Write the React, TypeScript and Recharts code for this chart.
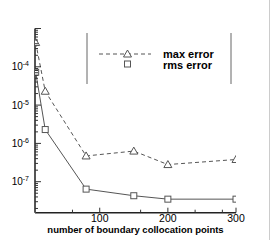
import React from "react";
import { LineChart, Line, XAxis, YAxis } from "recharts";

const xValues = [6, 20, 80, 150, 200, 300];
const maxError = [4.3e-4, 2.3e-5, 4.7e-7, 6.3e-7, 2.8e-7, 3.8e-7];
const rmsError = [7.2e-5, 2.3e-6, 6.4e-8, 4.3e-8, 3.5e-8, 3.5e-8];

const xMajorTicks = [100, 200, 300];
const xTickLabels = ["100", "200", "300"];
const xMinorTicks = [60, 160, 240, 280];

const yMajorTicks = [1e-7, 1e-6, 1e-5, 1e-4, 1e-3];
const yTickExponents = ["-7", "-6", "-5", "-4", ""];

const Y_DOMAIN: [number, number] = [1.55e-8, 1e-3];
const X_DOMAIN: [number, number] = [5, 300];

const W = 270;
const H = 240;
const Y_AXIS_W = 35;
const X_AXIS_H = 27.3;
const MARGIN = { top: 28.5, right: 34, bottom: 0, left: 0 };
const PLOT_LEFT = Y_AXIS_W;
const PLOT_BOTTOM = H - X_AXIS_H;

const yMinorTicks: number[] = [];
for (let k = -8; k <= -4; k++) {
  for (let m = 2; m <= 9; m++) {
    const v = m * Math.pow(10, k);
    if (v >= Y_DOMAIN[0] && v <= Y_DOMAIN[1]) yMinorTicks.push(v);
  }
}

const data = xValues.map((x, i) => ({ x, maxErr: maxError[i], rmsErr: rmsError[i] }));

const FONT = '"Liberation Sans", Arial, Helvetica, sans-serif';
const GRAY = "#555";

const YTick = (props: any) => {
  const { payload } = props;
  const v = payload.value;
  const y = payload.coordinate ?? props.y;
  const idx = yMajorTicks.findIndex((t) => Math.abs(t - v) / t < 1e-6);
  const isMajor = idx >= 0;
  return (
    <g>
      <line x1={PLOT_LEFT} x2={PLOT_LEFT + (isMajor ? 6 : 3)} y1={y} y2={y} stroke="#333" strokeWidth={1} />
      {isMajor && yTickExponents[idx] !== "" && (
        <text x={29} y={y + 3.5} textAnchor="end" fontFamily={FONT} fontSize={10} fill="#000">
          10
          <tspan fontSize={7} dy={-4}>{yTickExponents[idx]}</tspan>
        </text>
      )}
    </g>
  );
};

const XTick = (props: any) => {
  const { payload } = props;
  const v = payload.value;
  const x = payload.coordinate ?? props.x;
  const idx = xMajorTicks.indexOf(v);
  const isMajor = idx >= 0;
  return (
    <g>
      <line x1={x} x2={x} y1={PLOT_BOTTOM} y2={PLOT_BOTTOM - (isMajor ? 5 : 3)} stroke="#333" strokeWidth={1} />
      {isMajor && (
        <text x={x} y={PLOT_BOTTOM + 9} textAnchor="middle" fontFamily={FONT} fontSize={10.5} fill="#000">
          {xTickLabels[idx]}
        </text>
      )}
    </g>
  );
};

const TriangleDot = (props: any) => {
  const { cx, cy, index } = props;
  if (cx == null || cy == null) return <g key={index} />;
  return (
    <path
      key={index}
      d={`M${cx},${cy - 4} L${cx + 4},${cy + 3} L${cx - 4},${cy + 3} Z`}
      fill="#fff"
      stroke={GRAY}
      strokeWidth={1}
    />
  );
};

const SquareDot = (props: any) => {
  const { cx, cy, index } = props;
  if (cx == null || cy == null) return <g key={index} />;
  return <rect key={index} x={cx - 3} y={cy - 3} width={6} height={6} fill="#fff" stroke={GRAY} strokeWidth={1} />;
};

export default function App() {
  return (
    <div style={{ position: "absolute", left: 0, top: 0, width: W, height: H, background: "#fff" }}>
      <LineChart width={W} height={H} data={data} margin={MARGIN}>
        <XAxis
          dataKey="x"
          type="number"
          domain={X_DOMAIN}
          ticks={[...xMajorTicks, ...xMinorTicks]}
          interval={0}
          tick={<XTick />}
          tickLine={false}
          axisLine={{ stroke: "#222", strokeWidth: 1.5 }}
          height={X_AXIS_H}
          allowDataOverflow
        />
        <YAxis
          type="number"
          scale="log"
          domain={Y_DOMAIN}
          ticks={[...yMajorTicks, ...yMinorTicks]}
          interval={0}
          tick={<YTick />}
          tickLine={false}
          axisLine={{ stroke: GRAY, strokeWidth: 2 }}
          width={Y_AXIS_W}
          allowDataOverflow
        />
        <Line
          type="linear"
          dataKey="maxErr"
          stroke={GRAY}
          strokeWidth={1}
          strokeDasharray="4 3"
          dot={<TriangleDot />}
          isAnimationActive={false}
        />
        <Line
          type="linear"
          dataKey="rmsErr"
          stroke={GRAY}
          strokeWidth={1}
          dot={<SquareDot />}
          isAnimationActive={false}
        />
      </LineChart>
      <svg width={W} height={H} style={{ position: "absolute", left: 0, top: 0, pointerEvents: "none" }}>
        <line x1={87} x2={87} y1={33} y2={84} stroke="#666" strokeWidth={1} />
        <line x1={231} x2={231} y1={33} y2={84} stroke="#666" strokeWidth={1} />
        <line x1={99} x2={151} y1={54} y2={54} stroke={GRAY} strokeWidth={1} strokeDasharray="4 3" />
        <path d="M127.5,50 L131.5,57 L123.5,57 Z" fill="#fff" stroke={GRAY} strokeWidth={1} />
        <rect x={124.5} y={61} width={6} height={6} fill="#fff" stroke={GRAY} strokeWidth={1} />
        <text x={163} y={58} fontFamily={FONT} fontWeight="bold" fontSize={11} fill="#000">max error</text>
        <text x={163} y={68.5} fontFamily={FONT} fontWeight="bold" fontSize={11} fill="#000">rms error</text>
        <text x={135.5} y={232.5} textAnchor="middle" fontFamily={FONT} fontWeight="bold" fontSize={9.5} fill="#000">
          number of boundary collocation points
        </text>
        <line x1={269.5} x2={269.5} y1={0} y2={H} stroke="#ccc" strokeWidth={1} />
      </svg>
    </div>
  );
}
